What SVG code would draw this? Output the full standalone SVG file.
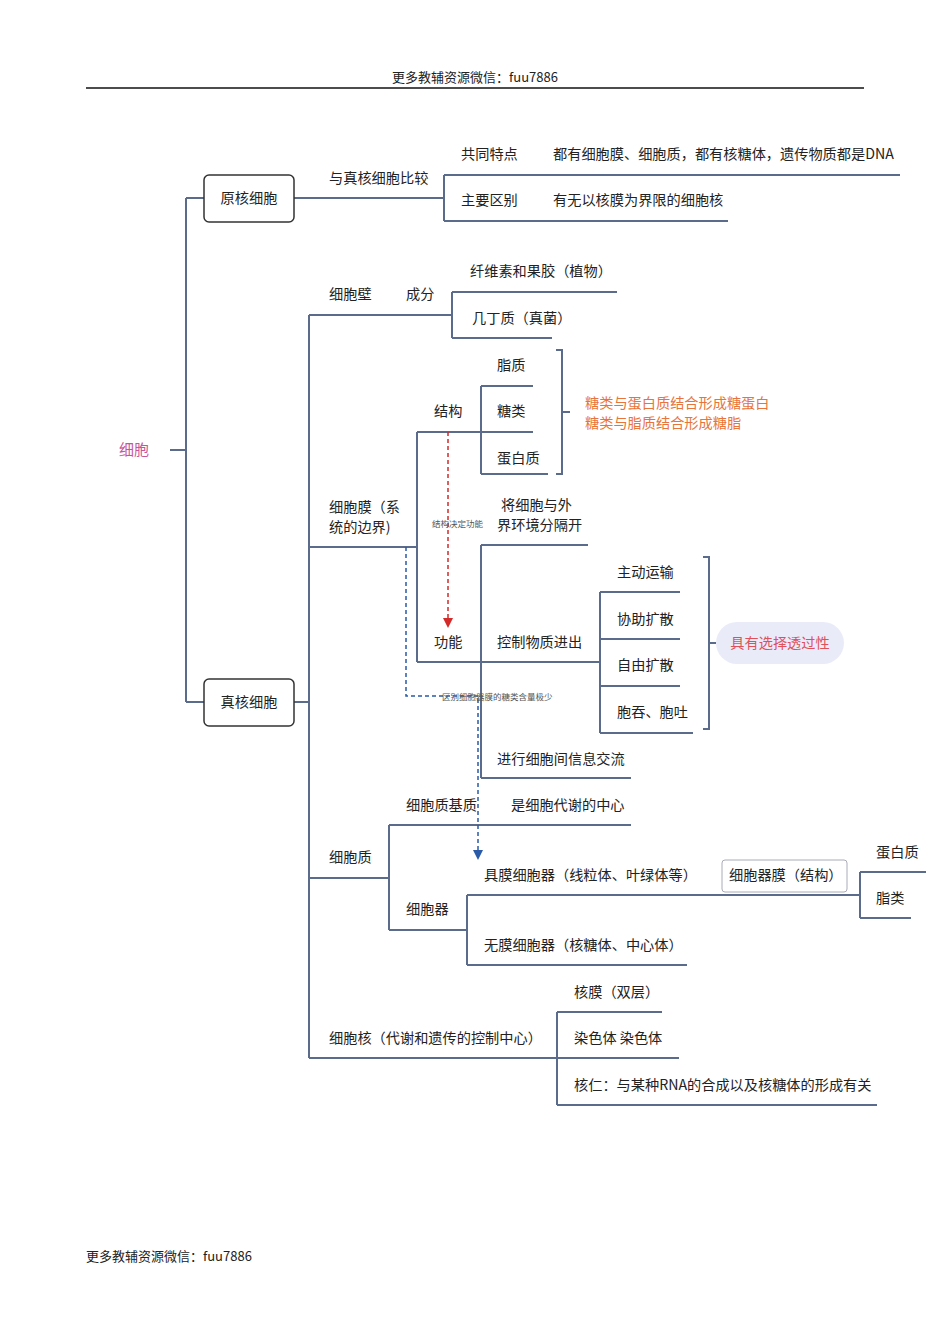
<svg xmlns="http://www.w3.org/2000/svg" width="950" height="1344" viewBox="0 0 950 1344">
<style>
text{font-family:"Noto Sans CJK SC","Liberation Sans",sans-serif;font-size:14.2px;fill:#222}
.l{stroke:#5b6b8c;stroke-width:2;fill:none}
.s{font-size:8.5px;fill:#555}
.h{font-size:13px;fill:#222}
</style>
<defs>
<marker id="ar" markerWidth="10" markerHeight="10" refX="8" refY="5" orient="auto" markerUnits="userSpaceOnUse"><path d="M0,0 L10,5 L0,10 Z" fill="#d42a2a"/></marker>
<marker id="ab" markerWidth="10" markerHeight="10" refX="8" refY="5" orient="auto" markerUnits="userSpaceOnUse"><path d="M0,0 L10,5 L0,10 Z" fill="#2a5aa8"/></marker>
</defs>
<rect width="950" height="1344" fill="#fff"/>
<text x="475" y="82" text-anchor="middle" class="h">更多教辅资源微信：fuu7886</text>
<line x1="86" y1="88" x2="864" y2="88" stroke="#111" stroke-width="1.5"/>
<text x="86" y="1261" class="h">更多教辅资源微信：fuu7886</text>

<g id="connectors">
<path class="l" d="M170,450H186M186,198V702M186,198H204M186,702H204"/>
<path class="l" d="M294,198H444M444,175V221M444,175H900M444,221H728"/>
<path class="l" d="M294,702H309M309,315V1058"/>
<path class="l" d="M309,315H452M452,292V338M452,292H617M452,338H552"/>
<path class="l" d="M309,547H417M417,432V662M417,432H533M481,386V474M481,386H533M481,474H548"/>
<path class="l" d="M417,662H600M481,545V778M481,545H588M600,592V733M600,592H680M600,639H680M600,686H680M600,733H693M481,778H631"/>
<path class="l" d="M556,350H562V474H556M562,412H570"/>
<path class="l" d="M703,557H709V729H703M709,643H716"/>
<path class="l" d="M309,878H389M389,825V930M389,825H631M389,930H467M467,895V965M467,965H687M467,895H860M860,872V918M860,872H926M860,918H911"/>
<path class="l" d="M309,1058H557M557,1012V1105M557,1012H662M557,1058H679M557,1105H877"/>
<line x1="448" y1="432" x2="448" y2="626" stroke="#d42a2a" stroke-width="1.5" stroke-dasharray="4,3" marker-end="url(#ar)"/>
<path d="M406,547V696H478V858" stroke="#2a5aa8" stroke-width="1.5" stroke-dasharray="4,3" fill="none" marker-end="url(#ab)"/>
</g>

<g id="root"><text x="134" y="455" text-anchor="middle" style="fill:#c8559a;font-size:15px">细胞</text></g>
<g id="prok"><rect x="204" y="175" width="90" height="47" rx="5" fill="#fff" stroke="#333" stroke-width="1.5"/><text x="249" y="203" text-anchor="middle">原核细胞</text></g>
<g id="euk"><rect x="204" y="679" width="90" height="47" rx="5" fill="#fff" stroke="#333" stroke-width="1.5"/><text x="249" y="707" text-anchor="middle">真核细胞</text></g>
<g id="n1"><text x="329" y="183">与真核细胞比较</text></g>
<g id="n2"><text x="461" y="159">共同特点</text><text x="553" y="159">都有细胞膜、细胞质，都有核糖体，遗传物质都是DNA</text></g>
<g id="n3"><text x="461" y="205">主要区别</text><text x="553" y="205">有无以核膜为界限的细胞核</text></g>
<g id="wall"><text x="329" y="299">细胞壁</text><text x="406" y="299">成分</text></g>
<g id="n4"><text x="470" y="276">纤维素和果胶（植物）</text></g>
<g id="n5"><text x="472" y="323">几丁质（真菌）</text></g>
<g id="mem"><text x="329" y="512">细胞膜（系</text><text x="329" y="532">统的边界)</text></g>
<g id="struct"><text x="434" y="416">结构</text></g>
<g id="n6"><text x="497" y="370">脂质</text></g>
<g id="n7"><text x="497" y="416">糖类</text></g>
<g id="n8"><text x="497" y="463">蛋白质</text></g>
<g id="n9"><text x="585" y="408" style="fill:#e8743b">糖类与蛋白质结合形成糖蛋白</text><text x="585" y="428" style="fill:#e8743b">糖类与脂质结合形成糖脂</text></g>
<g id="func"><text x="434" y="647">功能</text></g>
<g id="lbl1"><text x="432" y="527" class="s">结构决定功能</text></g>
<g id="n10"><text x="501" y="510">将细胞与外</text><text x="497" y="530">界环境分隔开</text></g>
<g id="n11"><text x="497" y="647">控制物质进出</text></g>
<g id="n12"><text x="617" y="577">主动运输</text></g>
<g id="n13"><text x="617" y="624">协助扩散</text></g>
<g id="n14"><text x="617" y="670">自由扩散</text></g>
<g id="n15"><text x="617" y="717">胞吞、胞吐</text></g>
<g id="n16"><rect x="716" y="622" width="128" height="42" rx="21" fill="#e9ebf9"/><text x="780" y="648" text-anchor="middle" style="fill:#e0505a">具有选择透过性</text></g>
<g id="n17"><text x="497" y="764">进行细胞间信息交流</text></g>
<g id="lbl2"><text x="442" y="700" class="s">区别细胞器膜的糖类含量极少</text></g>
<g id="cyto"><text x="329" y="862">细胞质</text></g>
<g id="n18"><text x="406" y="810">细胞质基质</text><text x="511" y="810">是细胞代谢的中心</text></g>
<g id="n19"><text x="406" y="914">细胞器</text></g>
<g id="n20"><text x="484" y="880">具膜细胞器（线粒体、叶绿体等）</text></g>
<g id="n21"><rect x="722" y="860" width="125" height="32" rx="3" fill="#fff" stroke="#aab" stroke-width="1"/><text x="729" y="880">细胞器膜（结构）</text></g>
<g id="n22"><text x="876" y="857">蛋白质</text></g>
<g id="n23"><text x="876" y="903">脂类</text></g>
<g id="n24"><text x="484" y="950">无膜细胞器（核糖体、中心体）</text></g>
<g id="nuc"><text x="329" y="1043">细胞核（代谢和遗传的控制中心）</text></g>
<g id="n25"><text x="574" y="997">核膜（双层）</text></g>
<g id="n26"><text x="574" y="1043">染色体  染色体</text></g>
<g id="n27"><text x="574" y="1090">核仁：与某种RNA的合成以及核糖体的形成有关</text></g>
</svg>
